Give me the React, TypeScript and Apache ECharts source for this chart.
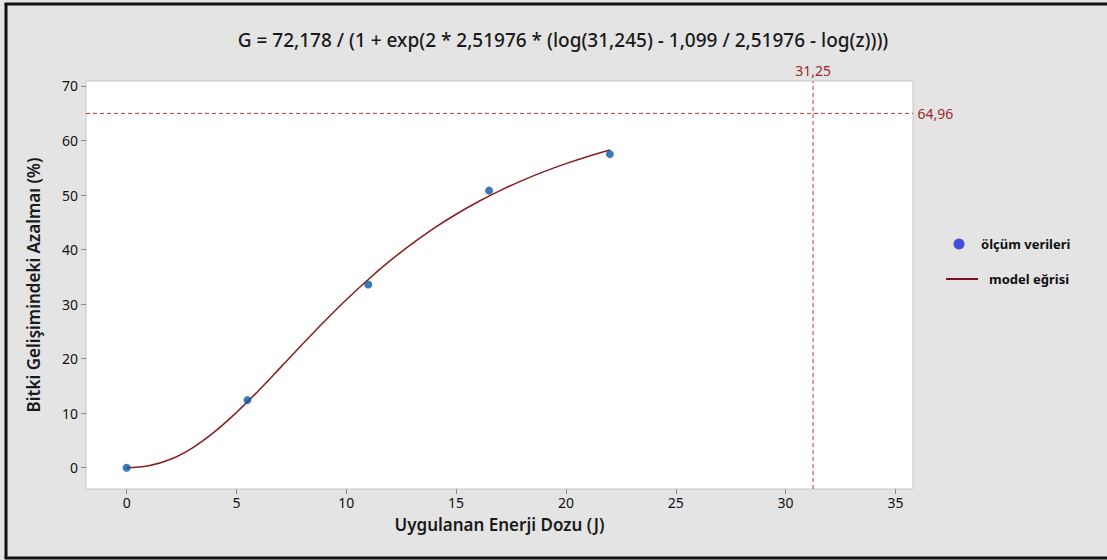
import React, { useEffect, useRef } from "react";
import * as echarts from "echarts";

const titleText = "G = 72,178 / (1 + exp(2 * 2,51976 * (log(31,245) - 1,099 / 2,51976 - log(z))))";
const xName = "Uygulanan Enerji Dozu (J)";
const yName = "Bitki Gelişimindeki Azalmaı (%)";

const measuredX = [0, 5.5, 11, 16.5, 22];
const measuredY = [0, 12.4, 33.6, 50.8, 57.5];

const curveX = [0, 1, 2, 3, 4, 5, 6, 7, 8, 9, 10, 11, 12, 13, 14, 15, 16, 17, 18, 19, 20, 21, 22];
const curveY = [0, 0.35, 1.55, 3.66, 6.57, 10.13, 14.12, 18.35, 22.63, 26.81, 30.8, 34.52, 37.96, 41.09, 43.93, 46.47, 48.76, 50.81, 52.64, 54.28, 55.75, 57.06, 58.25];

const xTicks = [0, 5, 10, 15, 20, 25, 30, 35];
const yTicks = [0, 10, 20, 30, 40, 50, 60, 70];
const xRange = [-1.85, 35.8];
const yRange = [-3.9, 70.9];

const refX = 31.25;
const refY = 64.96;
const refXLabel = "31,25";
const refYLabel = "64,96";

const legendNames = ["ölçüm verileri", "model eğrisi"];

const FONT = "'Noto Sans', 'Open Sans', sans-serif";
const REF_COLOR = "#c0392f";
const REF_TEXT = "#a0262b";

export default function App() {
  const ref = useRef<HTMLDivElement>(null);
  useEffect(() => {
    if (!ref.current) return;
    const chart = echarts.init(ref.current, null, { renderer: "svg" });
    const refSeries = (data: any[]) => ({
      type: "line",
      data,
      clip: false,
      silent: true,
      symbol: "circle",
      symbolSize: 1,
      showSymbol: true,
      lineStyle: { color: REF_COLOR, type: [4, 3], width: 1 },
      itemStyle: { color: "rgba(0,0,0,0)", borderWidth: 0 },
      label: { show: false },
      z: 1,
    });
    const option: any = {
      animation: false,
      backgroundColor: "#e4e4e4",
      textStyle: { fontFamily: FONT },
      title: {
        text: titleText,
        left: 558,
        textAlign: "center",
        top: 25,
        textStyle: { fontSize: 19, fontWeight: 500, color: "#1a1a1a", fontFamily: FONT },
      },
      grid: {
        left: 86,
        top: 81,
        right: 194,
        bottom: 71,
        show: true,
        backgroundColor: "#ffffff",
        borderColor: "#c6c6c6",
        borderWidth: 1,
      },
      xAxis: {
        type: "value",
        min: xRange[0],
        max: xRange[1],
        name: xName,
        nameLocation: "middle",
        nameGap: 27,
        nameTextStyle: { fontSize: 17, fontWeight: 600, color: "#1a1a1a" },
        axisLine: { show: false, onZero: false },
        splitLine: { show: false },
        axisTick: { show: true, length: 5, lineStyle: { color: "#8a8a8a" }, customValues: xTicks },
        axisLabel: { customValues: xTicks, fontSize: 14, color: "#111", margin: 6 },
      },
      yAxis: {
        type: "value",
        min: yRange[0],
        max: yRange[1],
        name: yName,
        nameLocation: "middle",
        nameGap: 44,
        nameTextStyle: { fontSize: 17, fontWeight: 600, color: "#1a1a1a" },
        axisLine: { show: false, onZero: false },
        splitLine: { show: false },
        axisTick: { show: true, length: 5, lineStyle: { color: "#8a8a8a" }, customValues: yTicks },
        axisLabel: { customValues: yTicks, fontSize: 14, color: "#111", margin: 8 },
      },
      series: [
        refSeries([
          [refX, yRange[0]],
          {
            value: [refX, yRange[1]],
            label: { show: true, position: "top", distance: 3, formatter: refXLabel, color: REF_TEXT, fontSize: 14, fontFamily: FONT },
          },
        ]),
        refSeries([
          [xRange[0], refY],
          {
            value: [xRange[1], refY],
            label: { show: true, position: "right", distance: 4, formatter: refYLabel, color: REF_TEXT, fontSize: 14, fontFamily: FONT },
          },
        ]),
        {
          name: legendNames[1],
          type: "line",
          data: curveX.map((x, i) => [x, curveY[i]]),
          smooth: 0.4,
          showSymbol: false,
          lineStyle: { color: "#8b1c1c", width: 1.5 },
          itemStyle: { color: "#8b1c1c" },
          z: 2,
        },
        {
          name: legendNames[0],
          type: "scatter",
          data: measuredX.map((x, i) => [x, measuredY[i]]),
          symbolSize: 8,
          itemStyle: { color: "#0a56a6" },
          z: 3,
        },
      ],
      graphic: [
        { type: "line", shape: { x1: 6, y1: 4, x2: 6, y2: 558 }, style: { stroke: "#111", lineWidth: 3 } },
        { type: "line", shape: { x1: 4.5, y1: 4, x2: 1107, y2: 4 }, style: { stroke: "#111", lineWidth: 3 } },
        { type: "line", shape: { x1: 4.5, y1: 558, x2: 1107, y2: 558 }, style: { stroke: "#111", lineWidth: 3 } },
        { type: "circle", shape: { cx: 959, cy: 244, r: 5.5 }, style: { fill: "#4150d4" } },
        { type: "text", x: 981, y: 244, style: { text: legendNames[0], fontSize: 13, fontWeight: "bold", fill: "#111", fontFamily: FONT, verticalAlign: "middle" } },
        { type: "line", shape: { x1: 946, y1: 279, x2: 978, y2: 279 }, style: { stroke: "#7a1020", lineWidth: 2 } },
        { type: "text", x: 989, y: 279, style: { text: legendNames[1], fontSize: 13, fontWeight: "bold", fill: "#111", fontFamily: FONT, verticalAlign: "middle" } },
      ],
    };
    chart.setOption(option);
    return () => chart.dispose();
  }, []);
  return <div ref={ref} style={{ position: "fixed", left: 0, top: 0, width: 1107, height: 560 }} />;
}
